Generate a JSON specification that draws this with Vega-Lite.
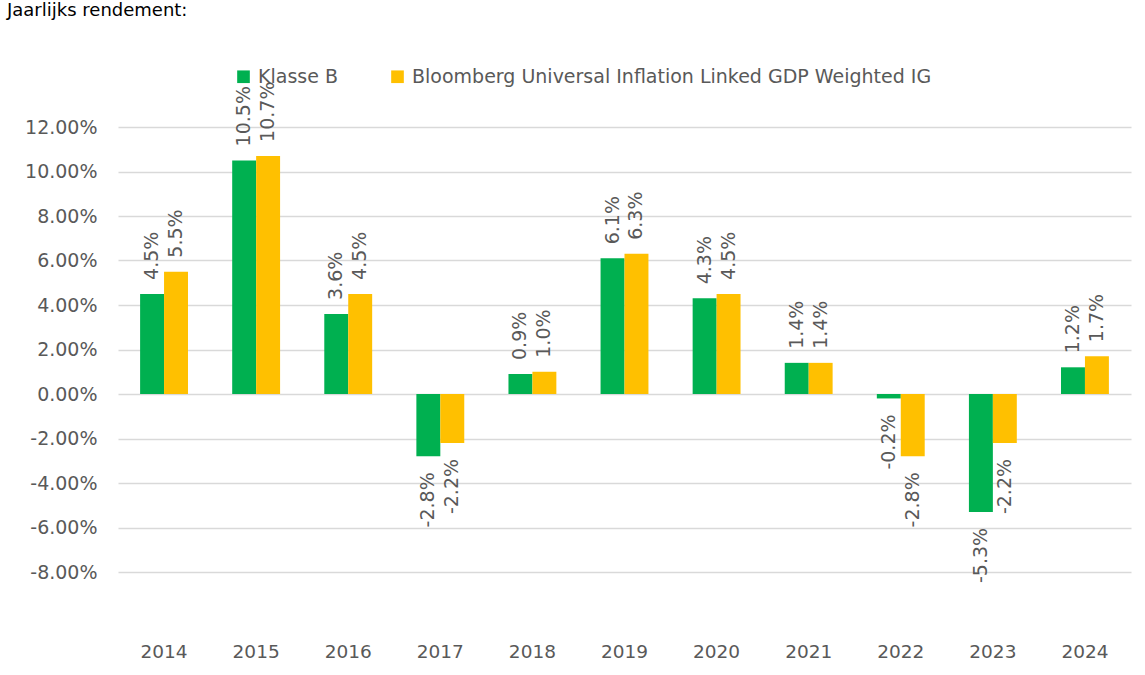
{
  "$schema": "https://vega.github.io/schema/vega-lite/v6.json",
  "autosize": {"type": "none"},
  "width": 1013,
  "height": 445,
  "padding": {"left": 118, "top": 127, "right": 14, "bottom": 103},
  "background": "white",
  "title": {
    "text": "Jaarlijks rendement:",
    "anchor": "start",
    "frame": "group",
    "orient": "top",
    "offset": 47,
    "dx": -111,
    "font": "DejaVu Sans",
    "fontSize": 18,
    "fontWeight": "normal",
    "color": "#000000"
  },
  "config": {
    "locale": {"number": {"decimal": ".", "thousands": ",", "grouping": [3], "currency": ["$", ""], "minus": "-"}},
    "view": {"stroke": null},
    "font": "DejaVu Sans"
  },
  "data": {
    "values": [
      {"year": "2014", "series": "Klasse B", "value": 0.045},
      {"year": "2014", "series": "Bloomberg Universal Inflation Linked GDP Weighted IG", "value": 0.055},
      {"year": "2015", "series": "Klasse B", "value": 0.105},
      {"year": "2015", "series": "Bloomberg Universal Inflation Linked GDP Weighted IG", "value": 0.107},
      {"year": "2016", "series": "Klasse B", "value": 0.036},
      {"year": "2016", "series": "Bloomberg Universal Inflation Linked GDP Weighted IG", "value": 0.045},
      {"year": "2017", "series": "Klasse B", "value": -0.028},
      {"year": "2017", "series": "Bloomberg Universal Inflation Linked GDP Weighted IG", "value": -0.022},
      {"year": "2018", "series": "Klasse B", "value": 0.009},
      {"year": "2018", "series": "Bloomberg Universal Inflation Linked GDP Weighted IG", "value": 0.010},
      {"year": "2019", "series": "Klasse B", "value": 0.061},
      {"year": "2019", "series": "Bloomberg Universal Inflation Linked GDP Weighted IG", "value": 0.063},
      {"year": "2020", "series": "Klasse B", "value": 0.043},
      {"year": "2020", "series": "Bloomberg Universal Inflation Linked GDP Weighted IG", "value": 0.045},
      {"year": "2021", "series": "Klasse B", "value": 0.014},
      {"year": "2021", "series": "Bloomberg Universal Inflation Linked GDP Weighted IG", "value": 0.014},
      {"year": "2022", "series": "Klasse B", "value": -0.002},
      {"year": "2022", "series": "Bloomberg Universal Inflation Linked GDP Weighted IG", "value": -0.028},
      {"year": "2023", "series": "Klasse B", "value": -0.053},
      {"year": "2023", "series": "Bloomberg Universal Inflation Linked GDP Weighted IG", "value": -0.022},
      {"year": "2024", "series": "Klasse B", "value": 0.012},
      {"year": "2024", "series": "Bloomberg Universal Inflation Linked GDP Weighted IG", "value": 0.017}
    ]
  },
  "encoding": {
    "x": {
      "field": "year",
      "type": "nominal",
      "scale": {"paddingInner": 0.48, "paddingOuter": 0.24},
      "axis": {
        "title": null,
        "domain": false,
        "ticks": false,
        "labelAngle": 0,
        "labelPadding": 70,
        "labelFont": "DejaVu Sans",
        "labelFontSize": 18.5,
        "labelColor": "#595959"
      }
    },
    "xOffset": {
      "field": "series",
      "type": "nominal",
      "sort": ["Klasse B", "Bloomberg Universal Inflation Linked GDP Weighted IG"],
      "scale": {"paddingInner": 0, "paddingOuter": 0}
    },
    "y": {
      "field": "value",
      "type": "quantitative",
      "scale": {"domain": [-0.08, 0.12], "nice": false, "zero": true},
      "axis": {
        "title": null,
        "format": ".2%",
        "values": [-0.08, -0.06, -0.04, -0.02, 0, 0.02, 0.04, 0.06, 0.08, 0.10, 0.12],
        "domain": false,
        "ticks": false,
        "labelPadding": 21,
        "labelFont": "DejaVu Sans",
        "labelFontSize": 19,
        "labelColor": "#595959",
        "gridColor": "#D9D9D9",
        "gridWidth": 1.3
      }
    }
  },
  "layer": [
    {
      "mark": {"type": "bar"},
      "encoding": {
        "color": {
          "field": "series",
          "type": "nominal",
          "sort": ["Klasse B", "Bloomberg Universal Inflation Linked GDP Weighted IG"],
          "scale": {"domain": ["Klasse B", "Bloomberg Universal Inflation Linked GDP Weighted IG"], "range": ["#00B050", "#FFC000"]},
          "legend": {
            "title": null,
            "orient": "none",
            "direction": "horizontal",
            "legendX": 116,
            "legendY": -60,
            "symbolType": "square",
            "symbolSize": 160,
            "symbolStrokeWidth": 0,
            "symbolOpacity": 1,
            "labelFont": "DejaVu Sans",
            "labelFontSize": 19,
            "labelColor": "#595959",
            "labelOffset": 5,
            "columnPadding": 50,
            "labelLimit": 800
          }
        }
      }
    },
    {
      "transform": [{"filter": "datum.value >= 0"}],
      "mark": {"type": "text", "angle": 270, "align": "left", "baseline": "middle", "dx": 14, "font": "DejaVu Sans", "fontSize": 19, "color": "#595959"},
      "encoding": {"text": {"field": "value", "type": "quantitative", "format": ".1%"}}
    },
    {
      "transform": [{"filter": "datum.value < 0"}],
      "mark": {"type": "text", "angle": 270, "align": "right", "baseline": "middle", "dx": -16, "font": "DejaVu Sans", "fontSize": 19, "color": "#595959"},
      "encoding": {"text": {"field": "value", "type": "quantitative", "format": ".1%"}}
    }
  ]
}
